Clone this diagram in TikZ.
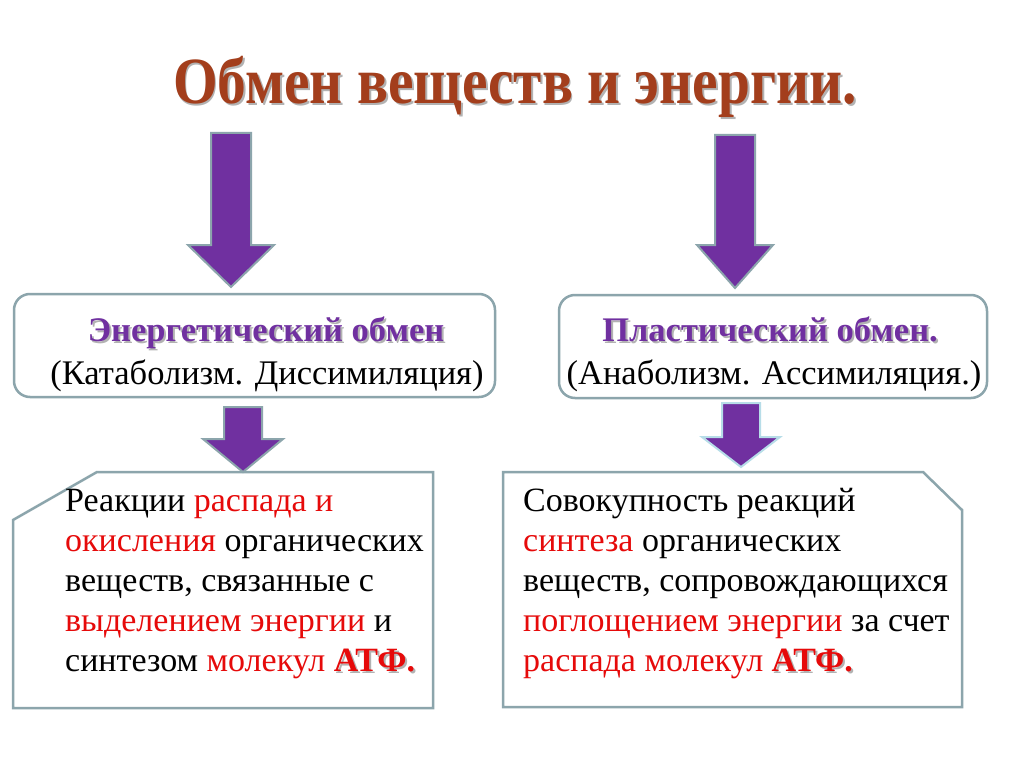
\documentclass[tikz,border=0pt]{standalone}
\usepackage{fontspec}
\setmainfont{Liberation Serif}
\definecolor{titlebrown}{RGB}{163,62,28}
\definecolor{violet1}{RGB}{112,48,160}
\definecolor{edgegray}{RGB}{140,165,172}
\definecolor{lightcyan}{RGB}{183,221,232}
\definecolor{redtxt}{RGB}{230,10,10}
\newcommand\withshadow[2]{\rlap{\raisebox{-2pt}{\hspace*{2pt}\textcolor{black!30}{#2}}}\textcolor{#1}{#2}}
\newcommand\rd[1]{\textcolor{redtxt}{#1}}
\newcommand\atf{\textbf{\withshadow{redtxt}{АТФ.}}}
\tikzset{
  arr/.style={fill=violet1, draw=edgegray, line width=2pt, line join=miter},
  box/.style={draw=edgegray, line width=2.5pt, fill=white},
  boxline/.style={anchor=base, inner sep=0pt, font=\fontsize{34.5}{40}\selectfont},
  bodyline/.style={anchor=base west, inner sep=0pt, font=\fontsize{34}{40}\selectfont}
}
\begin{document}
\begin{tikzpicture}[x=1pt, y=-1pt]
  \useasboundingbox[fill=white] (0,0) rectangle (1024,767);
  % titulo
  \node[anchor=base, inner sep=0pt, font=\fontsize{66}{72}\bfseries] (title) at (515,104)
    {\scalebox{0.87}[1]{\withshadow{titlebrown}{Обмен веществ и энергии.}}};
  % las dos cajas redondeadas
  \draw[box, rounded corners=16pt] (14,294) rectangle (495,397);
  \draw[box, rounded corners=16pt] (559,295) rectangle (987,398);
  \node[boxline] (energ) at (266,341) {\bfseries\withshadow{violet1}{Энергетический обмен}};
  \node[boxline] (katab) at (267,384) {(Катаболизм. Диссимиляция)};
  \node[boxline] (plast) at (770,341) {\bfseries\withshadow{violet1}{Пластический обмен.}};
  \node[boxline] (anab) at (774,384) {(Анаболизм. Ассимиляция.)};
  % las cajas de abajo, con la esquina cortada
  \draw[box] (97,472) -- (433,472) -- (433,708) -- (13,708) -- (13,520) -- cycle;
  \draw[box] (503,472) -- (923,472) -- (962,510) -- (962,707) -- (503,707) -- cycle;
  \foreach \i/\txt in {1/{Реакции \rd{распада и}}, 2/{\rd{окисления} органических},
                       3/{веществ, связанные с}, 4/{\rd{выделением энергии} и},
                       5/{синтезом \rd{молекул} \atf}}
    \node[bodyline] (left\i) at (65,471+40*\i) {\txt};
  \foreach \i/\txt in {1/{Совокупность реакций}, 2/{\rd{синтеза} органических},
                       3/{веществ, сопровождающихся}, 4/{\rd{поглощением энергии} за счет},
                       5/{\rd{распада молекул} \atf}}
    \node[bodyline] (right\i) at (523,471+40*\i) {\txt};
  % las flechas
  \foreach \x/\t/\n/\e/\s/\h/\c in {231/133/245/287/20/43/edgegray, 735/135/245/288/20/38/edgegray,
                                   243/407/439/472/19/40/edgegray, 741/403/437/467/19/39/lightcyan}
    \filldraw[arr, draw=\c] (\x-\s,\t) -- (\x+\s,\t) -- (\x+\s,\n) -- (\x+\h,\n) -- (\x,\e)
      -- (\x-\h,\n) -- (\x-\s,\n) -- cycle;
\end{tikzpicture}
\end{document}
